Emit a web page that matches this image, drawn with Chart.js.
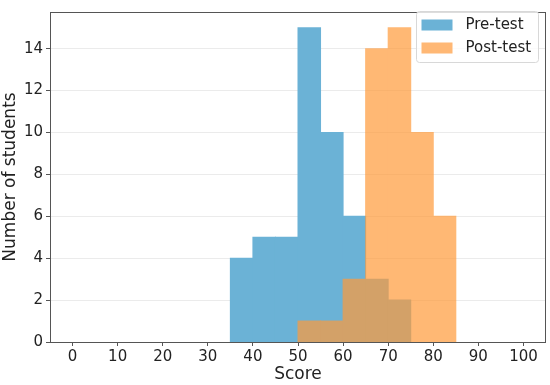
<!DOCTYPE html>
<html>
<head>
<meta charset="utf-8">
<script src="https://cdn.jsdelivr.net/npm/chart.js@4"></script>
<style>
html,body{margin:0;padding:0;background:#fff;}
#wrap{width:550px;height:385px;}
</style>
</head>
<body>
<div id="wrap"><canvas id="c" width="550" height="385"></canvas></div>
<script>
const binWidth = 5;
const preBinStarts = [35, 40, 45, 50, 55, 60, 65, 70];
const preCounts = [4, 5, 5, 15, 10, 6, 3, 2];
const postBinStarts = [50, 55, 60, 65, 70, 75, 80];
const postCounts = [1, 1, 3, 14, 15, 10, 6];
const xTicks = [0, 10, 20, 30, 40, 50, 60, 70, 80, 90, 100];
const yTicks = [0, 2, 4, 6, 8, 10, 12, 14];
const seriesLabels = ['Pre-test', 'Post-test'];

const FONT = 'DejaVu Sans';
const preColor = 'rgb(107,178,214)';
const postColor = 'rgb(255,154,58)';
const postAlpha = 0.7;

const toPoints = (starts, counts) => starts.map((s, i) => ({x: s + binWidth / 2, y: counts[i]}));

// draw the translucent series as one layer so adjacent bars show no seams
const layerPlugin = {
  id: 'layer',
  beforeDatasetDraw(chart, args) {
    if (args.index !== 1) return;
    const off = document.createElement('canvas');
    off.width = chart.canvas.width;
    off.height = chart.canvas.height;
    const octx = off.getContext('2d');
    args.meta.data.forEach(el => el.draw(octx, chart.chartArea));
    const ctx = chart.ctx;
    ctx.save();
    ctx.globalAlpha = postAlpha;
    ctx.drawImage(off, 0, 0);
    ctx.restore();
    return false;
  }
};

const framePlugin = {
  id: 'frame',
  afterDraw(chart) {
    const {ctx, chartArea: a} = chart;
    ctx.save();
    ctx.strokeStyle = '#555';
    ctx.lineWidth = 1;
    ctx.strokeRect(Math.round(a.left) + 0.5, Math.round(a.top) + 0.5, Math.round(a.right - a.left) - 1, Math.round(a.bottom - a.top));
    // legend
    const bx = 416.5, by = 11.5, bw = 122, bh = 51;
    ctx.fillStyle = 'rgba(255,255,255,0.8)';
    ctx.strokeStyle = '#d8d8d8';
    ctx.beginPath();
    if (ctx.roundRect) ctx.roundRect(bx, by, bw, bh, 3); else ctx.rect(bx, by, bw, bh);
    ctx.fill();
    ctx.stroke();
    ctx.font = '15px "' + FONT + '"';
    ctx.textBaseline = 'middle';
    chart.data.datasets.forEach((ds, i) => {
      const y = by + 13 + i * 23;
      ctx.globalAlpha = 1;
      ctx.fillStyle = '#fff';
      ctx.fillRect(bx + 5, y - 5, 31, 11);
      ctx.globalAlpha = i === 1 ? postAlpha : 1;
      ctx.fillStyle = ds.backgroundColor;
      ctx.fillRect(bx + 5, y - 5, 31, 11);
      ctx.globalAlpha = 1;
      ctx.fillStyle = '#222';
      ctx.fillText(ds.label, bx + 49, y + 1);
    });
    ctx.restore();
  }
};

new Chart(document.getElementById('c'), {
  type: 'bar',
  data: {
    datasets: [
      {label: seriesLabels[0], data: toPoints(preBinStarts, preCounts), backgroundColor: preColor, borderWidth: 0, inflateAmount: 0.5, order: 2},
      {label: seriesLabels[1], data: toPoints(postBinStarts, postCounts), backgroundColor: postColor, borderWidth: 0, inflateAmount: 0.5, order: 1}
    ]
  },
  options: {
    responsive: false,
    animation: false,
    devicePixelRatio: 1,
    layout: {padding: {top: 4, right: 4, left: 0, bottom: 0}},
    grouped: false,
    barPercentage: 1,
    categoryPercentage: 1,
    plugins: {legend: {display: false}, tooltip: {enabled: false}},
    scales: {
      x: {
        type: 'linear',
        offset: false,
        min: -5,
        max: 105,
        afterBuildTicks(s) { s.ticks = xTicks.map(v => ({value: v})); },
        afterFit(s) { s.height = 43; },
        grid: {display: true, offset: false, drawOnChartArea: false, tickLength: 4, tickColor: '#555'},
        border: {display: false},
        ticks: {color: '#222', font: {family: FONT, size: 15}, padding: 2, maxRotation: 0, autoSkip: false},
        title: {display: true, text: 'Score', color: '#222', font: {family: FONT, size: 17}, padding: {top: 0, bottom: 0}}
      },
      y: {
        min: 0,
        max: 15.75,
        afterBuildTicks(s) { s.ticks = yTicks.map(v => ({value: v})); },
        afterFit(s) { s.width = 50; },
        grid: {color: '#ebebeb', tickLength: 4, tickColor: '#555'},
        border: {display: false},
        ticks: {color: '#222', font: {family: FONT, size: 15}, padding: 3, autoSkip: false},
        title: {display: true, text: 'Number of students', color: '#222', font: {family: FONT, size: 17}, padding: {top: 0, bottom: 2}}
      }
    }
  },
  plugins: [layerPlugin, framePlugin]
});
</script>
</body>
</html>
